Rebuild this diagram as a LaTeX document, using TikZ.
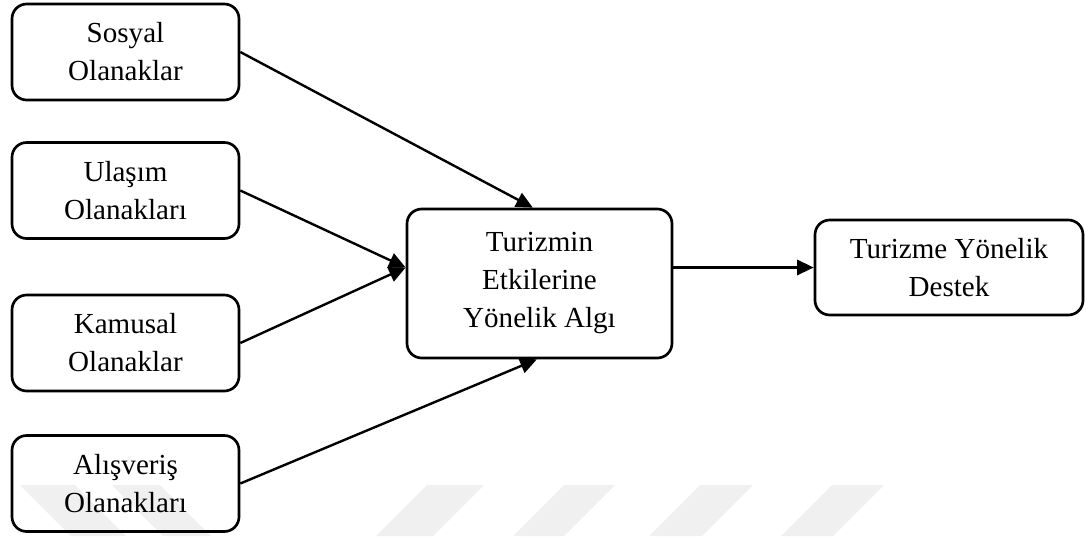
\documentclass[tikz,border=0pt]{standalone}
\usepackage{fontspec}
\setmainfont{Liberation Serif}
\usetikzlibrary{arrows.meta}
\begin{document}
\begin{tikzpicture}[x=0.75pt,y=-0.75pt,
  box/.style={draw, line width=2pt, rounded corners=11pt, align=center,
    inner sep=0pt, font=\fontsize{21.8}{28.5}\selectfont},
  srcbox/.style={box, minimum width=170.25pt, minimum height=72pt},
  link/.style={line width=1.8pt, -{Triangle[length=12.5pt,width=11.5pt]}},
  band/.style={fill=black!6, draw=none}]
\useasboundingbox (0,0) rectangle (1086,536);

% faint diagonal bands along the bottom edge
\fill[band] (20,485) -- (75,485) -- (126,536) -- (71,536) -- cycle;
\fill[band] (112,485) -- (160,485) -- (211,536) -- (163,536) -- cycle;
\fill[band] (427,485) -- (484,485) -- (433,536) -- (376,536) -- cycle;
\fill[band] (564,485) -- (615,485) -- (564,536) -- (513,536) -- cycle;
\fill[band] (700,485) -- (753,485) -- (702,536) -- (649,536) -- cycle;
\fill[band] (832,485) -- (884,485) -- (833,536) -- (781,536) -- cycle;

% source factors
\node[srcbox] (s1) at (125.5,52)    {Sosyal\\Olanaklar};
\node[srcbox] (s2) at (125.5,190.5) {Ulaşım\\Olanakları};
\node[srcbox] (s3) at (125.5,343)   {Kamusal\\Olanaklar};
\node[srcbox] (s4) at (125.5,483.5) {Alışveriş\\Olanakları};

% mediator and outcome
\node[box, minimum width=198.75pt, minimum height=111.75pt] (ctr) at (539.5,283.5)
  {Turizmin\\Etkilerine\\Yönelik Algı};
\node[box, minimum width=201pt, minimum height=71.25pt] (dst) at (949,267.5)
  {Turizme Yönelik\\Destek};

\coordinate (cin)  at (ctr.west |- dst.west);
\coordinate (cout) at (ctr.east |- dst.west);
\coordinate (ctop) at ([xshift=-5pt]ctr.north);
\coordinate (cbot) at ([xshift=-2pt]ctr.south);

\draw[link] (s1.east) -- (ctop);
\draw[link] (s2.east) -- (cin);
\draw[link] (s3.east) -- (cin);
\draw[link] (s4.east) -- (cbot);
\draw[link] (cout) -- (dst.west);
\end{tikzpicture}
\end{document}
